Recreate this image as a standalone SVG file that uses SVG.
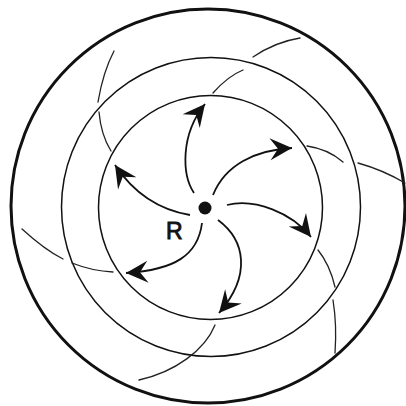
<svg xmlns="http://www.w3.org/2000/svg" width="406" height="406" viewBox="0 0 406 406">
<style>
.ring{fill:none;stroke:#111;stroke-width:1.5}
.outer{fill:none;stroke:#111;stroke-width:3}
.sp{fill:none;stroke:#222;stroke-width:1.3;stroke-linecap:round}
.arr{fill:none;stroke:#111;stroke-width:1.8;marker-end:url(#ah)}
.lbl{font-family:"Liberation Sans",Arial,sans-serif;font-size:23px;fill:#111;stroke:#111;stroke-width:0.9}
</style>
<defs>
<marker id="ah" viewBox="-24 -13 26 26" refX="0" refY="0" markerWidth="26" markerHeight="26" markerUnits="userSpaceOnUse" orient="auto">
<path d="M0,0 L-22,-11 L-14,0 L-22,11 Z" fill="#111"/>
</marker>
</defs>
<rect width="406" height="406" fill="#fff"/>
<g id="rings">
<circle class="outer" cx="208" cy="206" r="197"/>
<circle class="ring" cx="211" cy="207" r="149.5"/>
<circle class="ring" cx="210.5" cy="207.5" r="112"/>
</g>
<g id="spirals">
<path class="sp" d="M114,51 Q103,72 98,102"/>
<path class="sp" d="M99,112 Q101,135 111,151"/>
<path class="sp" d="M213,93 Q228,76 243,70"/>
<path class="sp" d="M253,57 Q275,42 300,38"/>
<path class="sp" d="M307,146 Q328,149 343,162"/>
<path class="sp" d="M358,163 Q383,170 405,183"/>
<path class="sp" d="M318,250 Q330,265 335,287"/>
<path class="sp" d="M333,300 Q337,325 335,353"/>
<path class="sp" d="M215,325 C205,350 175,372 139,380"/>
<path class="sp" d="M22,229 Q45,250 63,259"/>
<path class="sp" d="M72,263 Q92,271 113,272"/>
</g>
<g id="connectors">
<path class="arr" d="M194,193 C182,175 180,135 205,104"/>
<path class="arr" d="M213,195 C225,165 255,150 292,148"/>
<path class="arr" d="M227,205 C255,198 292,213 311,237"/>
<path class="arr" d="M218,220 C245,240 252,275 219,313"/>
<path class="arr" d="M202,223 C198,255 175,270 126,273"/>
<path class="arr" d="M190,215 C160,210 135,195 115,165"/>
</g>
<g id="center">
<circle cx="205" cy="208" r="6.5" fill="#111"/>
</g>
<g id="label-R">
<text class="lbl" x="166" y="239">R</text>
</g>
</svg>
